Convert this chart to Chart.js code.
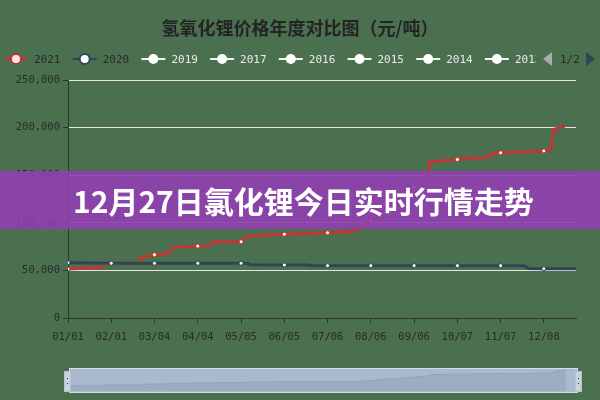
<!DOCTYPE html>
<html>
<head>
<meta charset="utf-8">
<script src="https://cdn.jsdelivr.net/npm/chart.js@4/dist/chart.umd.min.js"></script>
<style>
  html, body { margin: 0; padding: 0; background: #4b7050; }
  #wrap { position: relative; width: 600px; height: 400px; overflow: hidden; background: #4b7050; }
  #main { position: absolute; left: 0; top: 0; }
  #slider { position: absolute; left: 69px; top: 368px; width: 507px; height: 23px;
            background: #abb9cf; border: 1px solid #d3e0e3; box-sizing: content-box; }
  #shadow { position: absolute; left: 70px; top: 369px; }
  .handle { position: absolute; top: 371px; width: 5px; height: 19px; background: #c9d3df; border: 1px solid #b8c4d0; }
  .handle i { position: absolute; left: 2px; width: 1px; height: 1px; background: #333; }
  #banner { position: absolute; left: 0; top: 171px; width: 600px; height: 58px;
            background: rgba(145, 62, 175, 0.9); z-index: 5; }
  #banner span { position: absolute; left: 73px; top: 10px; color: #fff; font: bold 30px "Noto Sans CJK SC", sans-serif;
                 line-height: 38px; white-space: nowrap; }
</style>
</head>
<body>
<div id="wrap">
  <canvas id="main" width="600" height="400"></canvas>
  <div id="slider"></div>
  <canvas id="shadow" width="507" height="22"></canvas>
  <div class="handle" style="left:64px"><i style="top:6px"></i><i style="top:11px"></i></div>
  <div class="handle" style="left:575px"><i style="top:6px"></i><i style="top:11px"></i></div>
  <div id="banner"><span>12月27日氯化锂今日实时行情走势</span></div>
</div>
<script>
const titleText = '氢氧化锂价格年度对比图（元/吨）';
const legendNames = ['2021', '2020', '2019', '2017', '2016', '2015', '2014', '2013'];

// x axis: day of year, labelled every 31 days
const tickDays = [0, 31, 62, 93, 124, 155, 186, 217, 248, 279, 310, 341];
const tickLabels = ['01/01', '02/01', '03/04', '04/04', '05/05', '06/05', '07/06', '08/06', '09/06', '10/07', '11/07', '12/08'];

const days2021 = [0, 24, 27, 31, 51, 52, 62, 72, 75, 93, 102, 104, 124, 128, 155, 186, 205, 217, 230, 248, 258, 259, 279, 302, 305, 310, 341, 346, 348, 356];
const prices2021 = [51500, 53000, 57000, 57500, 57500, 63500, 66500, 68000, 74000, 75500, 76500, 80000, 80000, 86000, 88000, 89500, 91000, 102000, 120000, 137500, 150000, 164000, 166500, 169500, 173500, 173500, 175500, 176500, 198000, 201500];

const days2020 = [0, 31, 62, 93, 124, 128, 131, 155, 172, 175, 186, 217, 248, 279, 310, 327, 330, 341, 364];
const prices2020 = [58000, 57500, 57500, 57500, 57500, 57500, 56000, 55700, 55700, 55000, 55000, 55000, 55000, 55000, 55000, 55000, 52000, 51800, 51800];

const red = '#c23531';
const dark = '#2f4554';
const monoFont = '"DejaVu Sans Mono", monospace';

function toPoints(days, values) {
    return days.map((d, i) => ({ x: d, y: values[i] }));
}

const headerPlugin = {
    id: 'header',
    afterDraw(chart) {
        const c = chart.ctx;
        c.save();
        c.fillStyle = '#242424';
        c.font = 'bold 18px "Noto Sans CJK SC", sans-serif';
        c.textAlign = 'center';
        c.textBaseline = 'middle';
        c.fillText(titleText, 300, 28);

        // legend: first two selected, the rest greyed out
        c.font = '11px ' + monoFont;
        c.textAlign = 'left';
        legendNames.forEach((name, i) => {
            const cx = 16 + i * 68.7;
            const y = 59;
            const on = i < 2;
            const col = i === 0 ? red : (i === 1 ? dark : '#f4f4f4');
            c.save();
            c.beginPath();
            c.rect(0, 40, 536, 40);
            c.clip();
            c.strokeStyle = col;
            c.lineWidth = 2;
            c.beginPath();
            c.moveTo(cx - 12, y);
            c.lineTo(cx + 12, y);
            c.stroke();
            c.beginPath();
            c.arc(cx, y, 5, 0, Math.PI * 2);
            c.fillStyle = i === 0 ? '#fbe9e9' : '#fff';
            c.fill();
            if (on) { c.lineWidth = 2; c.stroke(); }
            c.fillStyle = on ? '#2a2a2a' : '#eaeaea';
            c.fillText(name, cx + 18, y + 1);
            c.restore();
        });

        // pager
        c.fillStyle = '#aaa';
        c.beginPath();
        c.moveTo(552, 52); c.lineTo(543, 59); c.lineTo(552, 66); c.closePath();
        c.fill();
        c.fillStyle = '#2a2a2a';
        c.fillText('1/2', 560, 60);
        c.fillStyle = dark;
        c.beginPath();
        c.moveTo(586, 52); c.lineTo(595, 59); c.lineTo(586, 66); c.closePath();
        c.fill();
        c.restore();
    }
};

const showPoint = (ctx) => (ctx.raw && tickDays.includes(ctx.raw.x)) ? 2 : 0;

new Chart(document.getElementById('main').getContext('2d'), {
    type: 'line',
    data: {
        datasets: [
            {
                label: legendNames[0],
                data: toPoints(days2021, prices2021),
                borderColor: red,
                borderWidth: 3,
                pointRadius: showPoint,
                pointBackgroundColor: '#fff',
                pointBorderColor: red,
                pointBorderWidth: 1,
                order: 1
            },
            {
                label: legendNames[1],
                data: toPoints(days2020, prices2020),
                borderColor: dark,
                borderWidth: 3,
                pointRadius: showPoint,
                pointBackgroundColor: '#fff',
                pointBorderColor: dark,
                pointBorderWidth: 1,
                order: 0
            }
        ]
    },
    options: {
        responsive: false,
        devicePixelRatio: 1,
        animation: false,
        layout: { padding: { top: 80, right: 24, left: 0, bottom: 0 } },
        plugins: {
            legend: { display: false },
            title: { display: false },
            tooltip: { enabled: false }
        },
        scales: {
            x: {
                type: 'linear',
                min: 0,
                max: 364,
                afterBuildTicks: (scale) => { scale.ticks = tickDays.map(v => ({ value: v })); },
                afterFit: (scale) => { scale.height = 82; },
                grid: { drawOnChartArea: false, drawTicks: true, tickLength: 5, tickColor: '#333' },
                border: { color: '#333', width: 1 },
                ticks: {
                    autoSkip: false,
                    maxRotation: 0,
                    padding: 8,
                    color: '#2a2a2a',
                    font: { family: monoFont, size: 10.5 },
                    callback: (v) => tickLabels[tickDays.indexOf(v)]
                }
            },
            y: {
                min: 0,
                max: 250000,
                afterFit: (scale) => { scale.width = 68; },
                grid: { color: '#e6e6e6', lineWidth: 1, drawTicks: true, tickLength: 5, tickColor: '#333' },
                border: { color: '#333', width: 1 },
                ticks: {
                    stepSize: 50000,
                    padding: 3,
                    color: '#2a2a2a',
                    font: { family: monoFont, size: 10.5 },
                    callback: (v) => v.toLocaleString('en-US')
                }
            }
        }
    },
    plugins: [headerPlugin]
});

// data shadow inside the zoom slider
new Chart(document.getElementById('shadow').getContext('2d'), {
    type: 'line',
    data: {
        datasets: [{
            data: toPoints(days2021, prices2021),
            borderColor: '#95a3b9',
            borderWidth: 1,
            backgroundColor: '#9eacc1',
            fill: 'start',
            pointRadius: 0
        }]
    },
    options: {
        responsive: false,
        devicePixelRatio: 1,
        animation: false,
        layout: { padding: 0 },
        plugins: { legend: { display: false }, tooltip: { enabled: false } },
        scales: {
            x: { type: 'linear', min: 0, max: 364, display: false },
            y: { min: -5000, max: 219000, display: false }
        }
    }
});
</script>
</body>
</html>
